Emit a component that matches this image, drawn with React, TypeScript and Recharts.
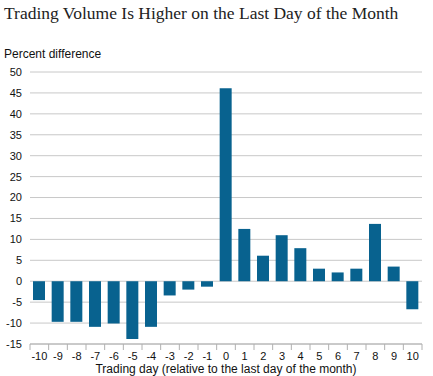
import React from 'react';
import { BarChart, Bar, XAxis, YAxis, CartesianGrid } from 'recharts';

const days = ['-10', '-9', '-8', '-7', '-6', '-5', '-4', '-3', '-2', '-1', '0', '1', '2', '3', '4', '5', '6', '7', '8', '9', '10'];
const values = [-4.5, -9.7, -9.7, -10.9, -10.1, -13.8, -10.9, -3.4, -2.0, -1.3, 46.1, 12.5, 6.1, 11.0, 7.9, 3.0, 2.1, 3.0, 13.7, 3.5, -6.7];
const yTicks = [-15, -10, -5, 0, 5, 10, 15, 20, 25, 30, 35, 40, 45, 50];

const data = days.map((d, i) => ({ day: d, value: values[i] }));

const PLOT_LEFT = 30;
const PLOT_WIDTH = 392;
const BAND = PLOT_WIDTH / days.length;

const XTick = (props: any) => {
  const { x, y, payload, index } = props;
  const axisY = y - 8;
  const left = x - BAND / 2;
  return (
    <g>
      <line x1={left} x2={left} y1={axisY} y2={axisY + 6} stroke="#b0b0b0" />
      {index === days.length - 1 && (
        <line x1={left + BAND} x2={left + BAND} y1={axisY} y2={axisY + 6} stroke="#b0b0b0" />
      )}
      <text x={x} y={axisY + 16} textAnchor="middle" fontSize={11} fill="#111">
        {payload.value}
      </text>
    </g>
  );
};

export default function App() {
  return (
    <div style={{ position: 'absolute', left: 0, top: 0, width: 433, height: 376, background: '#fff', fontFamily: '"Liberation Sans", Arial, sans-serif' }}>
      <div style={{ position: 'absolute', left: 4, top: 3, fontFamily: '"Liberation Serif", Georgia, serif', fontSize: 17.5, color: '#222', whiteSpace: 'nowrap' }}>
        Trading Volume Is Higher on the Last Day of the Month
      </div>
      <div style={{ position: 'absolute', left: 4, top: 47, fontSize: 12, color: '#111', whiteSpace: 'nowrap' }}>
        Percent difference
      </div>
      <div style={{ position: 'absolute', left: PLOT_LEFT, width: PLOT_WIDTH, top: 362, fontSize: 12, color: '#111', textAlign: 'center', whiteSpace: 'nowrap' }}>
        Trading day (relative to the last day of the month)
      </div>
      <BarChart width={433} height={376} data={data} margin={{ top: 72, right: 11, bottom: 0, left: 0 }}>
        <CartesianGrid vertical={false} stroke="#c8c8c8" />
        <XAxis
          dataKey="day"
          height={32}
          axisLine={{ stroke: '#b0b0b0' }}
          tickLine={false}
          tick={<XTick />}
          interval={0}
        />
        <YAxis
          width={30}
          domain={[-15, 50]}
          ticks={yTicks}
          interval={0}
          axisLine={false}
          tickLine={false}
          tick={{ fontSize: 11, fill: '#111' }}
        />
        <Bar dataKey="value" fill="#08628f" barSize={12} isAnimationActive={false} />
      </BarChart>
    </div>
  );
}
